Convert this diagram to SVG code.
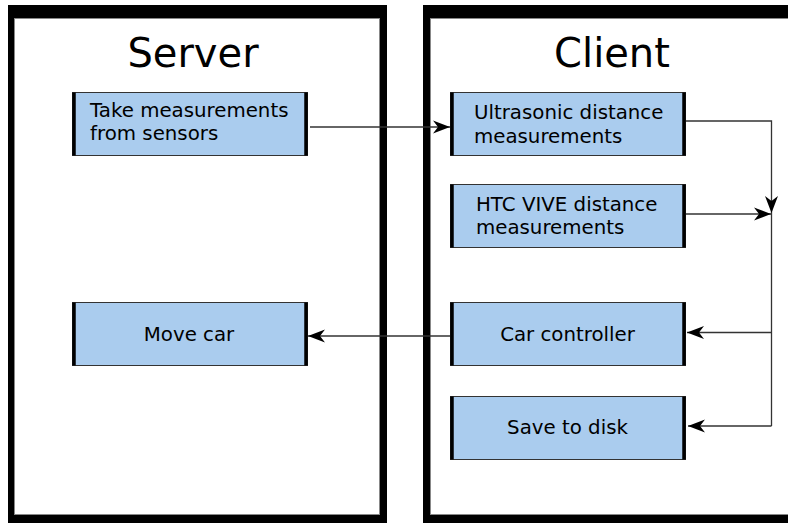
<svg xmlns="http://www.w3.org/2000/svg" width="788" height="523" viewBox="0 0 788 523">
<style>
.panel-outer{fill:#000}
.panel-inner{fill:#fff;stroke:#888;stroke-width:1}
.title{font-family:"DejaVu Sans",sans-serif;font-size:40px;fill:#000}
.box{fill:#aaccee;stroke:#333;stroke-width:1}
.side{stroke:#000;stroke-width:3.5}
.lbl{font-family:"DejaVu Sans",sans-serif;font-size:19.8px;fill:#000}
.c{text-anchor:middle}
.conn{fill:none;stroke:#333;stroke-width:1.3}
</style>
<defs>
<marker id="arr" markerUnits="userSpaceOnUse" markerWidth="20" markerHeight="16" refX="17" refY="8" orient="auto">
<path d="M0,1.5 L17,8 L0,14.5 L5,8 z" fill="#000"/>
</marker>
</defs>
<g id="server">
<rect class="panel-outer" x="8" y="5" width="379" height="525"/>
<rect class="panel-inner" x="14.5" y="18.5" width="365" height="496"/>
<text class="title c" x="193" y="67">Server</text>
</g>
<g id="client">
<rect class="panel-outer" x="423" y="5" width="380" height="525"/>
<rect class="panel-inner" x="430.5" y="18.5" width="370" height="496"/>
<text class="title c" x="612" y="67">Client</text>
</g>
<g id="take">
<rect class="box" x="72.5" y="92.5" width="235" height="63"/>
<line class="side" x1="74" y1="92.5" x2="74" y2="155.5"/>
<line class="side" x1="306" y1="92.5" x2="306" y2="155.5"/>
<text class="lbl" x="90" y="117">Take measurements</text>
<text class="lbl" x="90" y="140">from sensors</text>
</g>
<g id="move">
<rect class="box" x="72.5" y="302.5" width="235" height="63"/>
<line class="side" x1="74" y1="302.5" x2="74" y2="365.5"/>
<line class="side" x1="306" y1="302.5" x2="306" y2="365.5"/>
<text class="lbl c" x="189" y="341">Move car</text>
</g>
<g id="ultra">
<rect class="box" x="450.5" y="92.5" width="235" height="63"/>
<line class="side" x1="452" y1="92.5" x2="452" y2="155.5"/>
<line class="side" x1="684" y1="92.5" x2="684" y2="155.5"/>
<text class="lbl" x="474" y="119">Ultrasonic distance</text>
<text class="lbl" x="474" y="143">measurements</text>
</g>
<g id="htc">
<rect class="box" x="450.5" y="184.5" width="235" height="63"/>
<line class="side" x1="452" y1="184.5" x2="452" y2="247.5"/>
<line class="side" x1="684" y1="184.5" x2="684" y2="247.5"/>
<text class="lbl" x="476" y="211">HTC VIVE distance</text>
<text class="lbl" x="476" y="234">measurements</text>
</g>
<g id="carctl">
<rect class="box" x="450.5" y="302.5" width="235" height="63"/>
<line class="side" x1="452" y1="302.5" x2="452" y2="365.5"/>
<line class="side" x1="684" y1="302.5" x2="684" y2="365.5"/>
<text class="lbl c" x="567.5" y="341">Car controller</text>
</g>
<g id="save">
<rect class="box" x="450.5" y="396.5" width="235" height="63"/>
<line class="side" x1="452" y1="396.5" x2="452" y2="459.5"/>
<line class="side" x1="684" y1="396.5" x2="684" y2="459.5"/>
<text class="lbl c" x="567.5" y="434">Save to disk</text>
</g>
<g id="connectors">
<path class="conn" d="M310,127 H450" marker-end="url(#arr)"/>
<path class="conn" d="M686,121 H771.5 V213" marker-end="url(#arr)"/>
<path class="conn" d="M686,214 H771" marker-end="url(#arr)"/>
<path class="conn" d="M771.5,213 V426"/>
<path class="conn" d="M771.5,332.5 H687" marker-end="url(#arr)"/>
<path class="conn" d="M771.5,426 H688" marker-end="url(#arr)"/>
<path class="conn" d="M450,336 H308" marker-end="url(#arr)"/>
</g>
</svg>
